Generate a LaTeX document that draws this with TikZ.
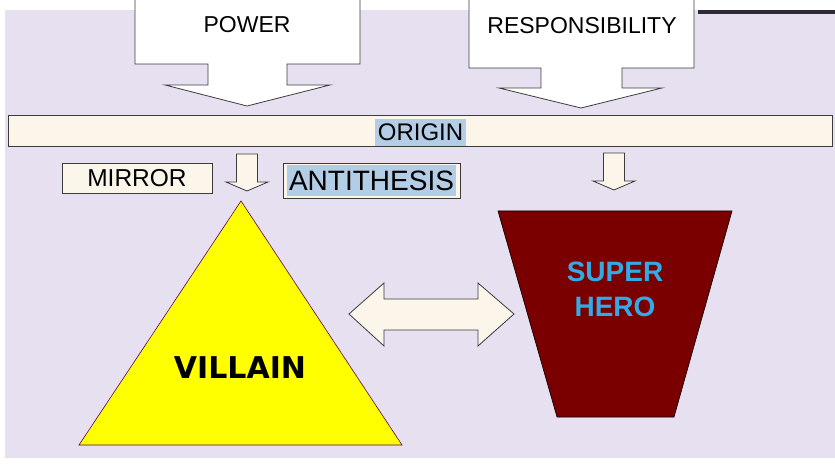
\documentclass[tikz,border=0pt]{standalone}
\usepackage{fontspec}
\setmainfont{Liberation Sans}
\newfontfamily\villainfont{DejaVu Sans}
\usetikzlibrary{positioning}
\definecolor{lav}{HTML}{E6E0F0}
\definecolor{cream}{HTML}{FBF5EA}
\definecolor{hilite}{HTML}{B3CDE6}
\definecolor{herored}{HTML}{7A0000}
\definecolor{heroblue}{HTML}{33A9E6}
\definecolor{villainyellow}{HTML}{FFFF00}
\definecolor{edge}{HTML}{3C3C3C}
\definecolor{strip}{HTML}{2E2A33}
\tikzset{
  bigarrow/.style={draw=edge, fill=white, line width=0.8pt},
  smallarrow/.style={draw=edge, fill=cream, line width=0.8pt},
  caption/.style={inner sep=0pt, font=\fontsize{23}{27}\selectfont},
}

\begin{document}
\begin{tikzpicture}[x=1pt,y=-1pt]
\useasboundingbox (0,0) rectangle (835,470);
\clip (0,0) rectangle (835,470);
\fill[white] (0,0) rectangle (835,470);
\fill[lav] (5,10) rectangle (835,458);
\fill[strip] (698,10) rectangle (835,14);

% the two inputs
\draw[bigarrow] (135,-2) -- (135,64) -- (208,64) -- (208,85) -- (165,85) -- (247,106)
  -- (330,85) -- (287,85) -- (287,64) -- (360,64) -- (360,-2);
\draw[bigarrow] (469,-2) -- (469,68) -- (541,68) -- (541,88) -- (499,88) -- (581,108)
  -- (662,88) -- (622,88) -- (622,68) -- (694,68) -- (694,-2);
\node[caption] (power) at (247,24.5) {POWER};
\node[caption] (resp) at (582,26) {RESPONSIBILITY};

% origin bar
\draw[draw=edge, fill=cream, line width=0.8pt] (8,115) rectangle (832,146);
\node[fill=hilite, inner sep=0pt, minimum width=91pt, minimum height=27pt,
  font=\fontsize{24}{28}\selectfont] (origin) at (420.5,132.5) {ORIGIN};

% small arrows below the bar
\foreach \cx/\ty in {247/154, 614/153} {
  \draw[smallarrow] (\cx-10.5,\ty) -- (\cx-10.5,\ty+28) -- (\cx-21,\ty+28) -- (\cx,\ty+37)
    -- (\cx+21,\ty+28) -- (\cx+10.5,\ty+28) -- (\cx+10.5,\ty) -- cycle;
}

\node[draw=edge, fill=cream, line width=0.8pt, inner sep=0pt, minimum width=150pt,
  minimum height=30pt, font=\fontsize{24.5}{28}\selectfont] (mirror) at (137,178) {MIRROR};
\draw[draw=edge, fill=cream, line width=0.8pt] (283,163) rectangle (460,198);
\node[fill=hilite, inner sep=0pt, minimum width=169pt, minimum height=31pt,
  font=\fontsize{28}{32}\selectfont] (antithesis) at (371.5,180.5) {ANTITHESIS};

% villain and hero
\draw[fill=villainyellow, draw=violet!70!black, line width=0.6pt] (241,201) -- (402,445) -- (79,445) -- cycle;
\node[font=\villainfont\bfseries\fontsize{30}{34}\selectfont] (villain) at (240,368) {VILLAIN};
\draw[fill=herored, draw=black, line width=0.6pt] (498,211) -- (732,211) -- (674,417) -- (557,417) -- cycle;
\node[align=center, text=heroblue, font=\bfseries\fontsize{28}{35}\selectfont] (superhero)
  at (615,289.5) {SUPER\\HERO};

\draw[smallarrow] (349,314) -- (384,283) -- (384,299) -- (478,299) -- (478,283) -- (514,314)
  -- (478,346) -- (478,330) -- (384,330) -- (384,346) -- cycle;
\end{tikzpicture}
\end{document}
